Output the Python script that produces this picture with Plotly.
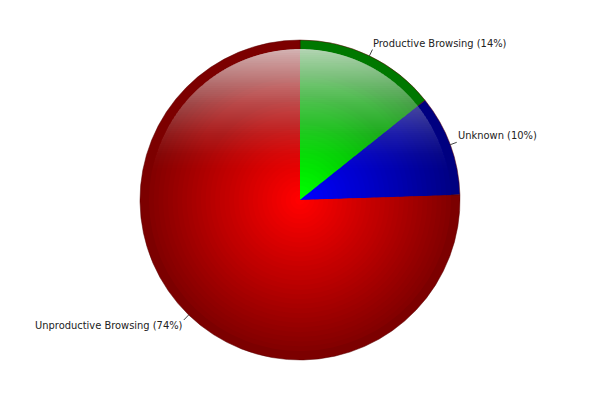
import math
import plotly.graph_objects as go

labels = ["Productive Browsing", "Unknown", "Unproductive Browsing"]
values = [14, 10, 74]

rim_colors = ["#007800", "#000080", "#7c0000"]
edge_colors = [(0, 135, 0), (0, 0, 135), (132, 0, 0)]
core_colors = [(0, 255, 0), (0, 0, 255), (255, 0, 0)]

W, H = 600, 400
CX, CY, R = 300, 200, 160          # pie centre / radius in pixels
RIM = 9                            # dark rim thickness (px)
LEAD = 7                           # leader line length (px)

fig = go.Figure()


def dom(s):
    rx, ry = R * s / W, R * s / H
    return dict(x=[0.5 - rx, 0.5 + rx], y=[0.5 - ry, 0.5 + ry])


# outer rim layer
fig.add_trace(go.Pie(
    labels=labels, values=values, sort=False, direction="clockwise", rotation=0,
    domain=dom(1.0),
    marker=dict(colors=rim_colors, line=dict(color="#5a0000", width=0.5)),
    textinfo="none", showlegend=False, hoverinfo="skip",
))

# radial gradient layers
n = 32
s0 = (R - RIM) / R
for i in range(n):
    s = s0 * (1 - i / n)
    t = i / (n - 1)
    cols = []
    for e, c in zip(edge_colors, core_colors):
        rgb = [round(e[k] + (c[k] - e[k]) * t) for k in range(3)]
        cols.append("rgb(%d,%d,%d)" % tuple(rgb))
    fig.add_trace(go.Pie(
        labels=labels, values=values, sort=False, direction="clockwise", rotation=0,
        domain=dom(s),
        marker=dict(colors=cols, line=dict(width=0)),
        textinfo="none", showlegend=False, hoverinfo="skip",
    ))

# glossy highlight on the upper part (stacked translucent circle segments)
gr = R - RIM
top = CY - gr
bottom = 172
steps = 60


def target_alpha(y):
    f = max(0.0, 1 - (y - top) / (bottom - top))
    return 0.76 * f ** 1.3


shapes = []
ys = [top + (bottom - top) * (k + 1) / steps for k in range(steps)]
prev_A = 0.0
alphas = []
for k in reversed(range(steps)):
    ymid = ys[k] - (bottom - top) / steps / 2
    A = target_alpha(ymid)
    a = 1 - (1 - A) / (1 - prev_A) if prev_A < 1 else 0
    alphas.append((k, max(0.0, a)))
    prev_A = A
for k, a in alphas:
    yc = ys[k]
    dy = yc - CY
    half = math.sqrt(max(gr * gr - dy * dy, 0))
    ang0 = math.atan2(dy, -half)
    ang1 = math.atan2(dy, half)
    a_start = ang0
    a_end = ang1 + 2 * math.pi if ang1 < ang0 else ang1
    m = 60
    pts = []
    for j in range(m + 1):
        th = a_start + (a_end - a_start) * j / m
        pts.append(((CX + gr * math.cos(th)) / W, 1 - (CY + gr * math.sin(th)) / H))
    path = "M " + " L ".join("%.5f,%.5f" % p for p in pts) + " Z"
    shapes.append(dict(type="path", xref="paper", yref="paper", path=path,
                       fillcolor="white", opacity=a, line=dict(width=0),
                       layer="above"))

# labels with short leader lines at slice mid-angles
total = sum(values)
annotations = []
cum = 0
for lab, v in zip(labels, values):
    mid = (cum + v / 2) / total * 2 * math.pi
    cum += v
    sx, cy_ = math.sin(mid), math.cos(mid)
    x0, y0 = CX + R * sx, CY - R * cy_
    x1, y1 = CX + (R + LEAD) * sx, CY - (R + LEAD) * cy_
    shapes.append(dict(type="line", xref="paper", yref="paper",
                       x0=x0 / W, y0=1 - y0 / H, x1=x1 / W, y1=1 - y1 / H,
                       line=dict(color="#444444", width=1), layer="above"))
    annotations.append(dict(
        x=x1 / W, y=1 - y1 / H,
        xref="paper", yref="paper", showarrow=False,
        text="%s (%d%%)" % (lab, v),
        xanchor="left" if sx > 0 else "right", yanchor="middle",
        yshift=6.5 if cy_ > 0 else -5.5,
        font=dict(family="DejaVu Sans Condensed, DejaVu Sans", size=11,
                  color="#222222"),
        borderpad=0,
    ))

fig.update_layout(
    width=W, height=H,
    margin=dict(l=0, r=0, t=0, b=0),
    paper_bgcolor="white", plot_bgcolor="white",
    showlegend=False, shapes=shapes, annotations=annotations,
)

fig.write_html("out.html", config={"displayModeBar": False},
               post_script="document.body.style.margin='0';")
